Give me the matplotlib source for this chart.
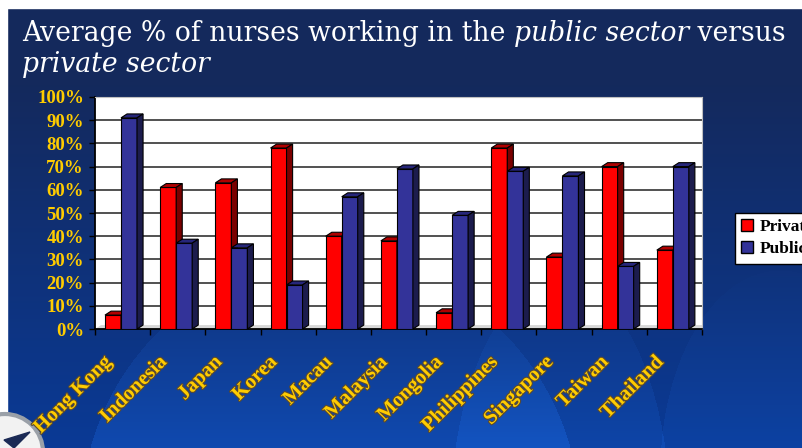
import numpy as np
import matplotlib
matplotlib.use('Agg')
import matplotlib.pyplot as plt
from matplotlib.patches import Polygon, Rectangle, Circle, Patch
from matplotlib.transforms import blended_transform_factory
import matplotlib.patheffects as pe

countries = ['Hong Kong', 'Indonesia', 'Japan', 'Korea', 'Macau', 'Malaysia',
             'Mongolia', 'Philippines', 'Singapore', 'Taiwan', 'Thailand']
private = [6, 61, 63, 78, 40, 38, 7, 78, 31, 70, 34]
public = [91, 37, 35, 19, 57, 69, 49, 68, 66, 27, 70]
yticks = [0, 10, 20, 30, 40, 50, 60, 70, 80, 90, 100]
ytick_labels = ['%d%%' % v for v in yticks]

W, H = 803, 448
fig = plt.figure(figsize=(W / 100, H / 100), dpi=100)

# slide background
bg = fig.add_axes([0, 0, 1, 1])
bg.set_xlim(0, W)
bg.set_ylim(H, 0)
bg.axis('off')
yy, xx = np.mgrid[0:H, 0:W]
t = np.clip((yy - 80) / 368.0, 0, 1)[..., None]
top = np.array([20, 41, 92]) / 255
bot = np.array([10, 58, 150]) / 255
img = top * (1 - t) + bot * t
img = np.broadcast_to(img, (H, W, 3)).copy()
# lighter swooshes
for cx, cy, rx, ry, amt in [(330, 520, 250, 260, 0.10), (560, 520, 110, 240, 0.07), (780, 470, 120, 200, 0.05)]:
    d = ((xx - cx) / rx) ** 2 + ((yy - cy) / ry) ** 2
    m = (d < 1).astype(float)[..., None] * np.clip((yy - 250) / 198.0, 0, 1)[..., None]
    img = img + m * amt * np.array([0.2, 0.6, 1.0])
img[:85] = np.array([20, 41, 92]) / 255
bg.imshow(np.clip(img, 0, 1), extent=(0, W, H, 0), aspect='auto', zorder=0)
bg.add_patch(Rectangle((0, 0), W, 8, color='white', zorder=1))
bg.add_patch(Rectangle((0, 0), 7, 412, color='white', zorder=1))
bg.add_patch(Circle((5, 452), 38, facecolor='#f2f2f2', edgecolor='#9aa0a8', lw=3, zorder=2))
bg.add_patch(Polygon([(4, 440), (30, 432), (14, 448)], color='#1b2a55', zorder=3))

# title, mixed upright / italic
def title_line(parts, x0, ybase, size):
    rend = fig.canvas.get_renderer()
    x = x0
    for txt, style in parts:
        t_ = fig.text(x / W, 1 - ybase / H, txt, color='white', fontsize=size,
                      family='DejaVu Serif', style=style, va='baseline', ha='left')
        bb = t_.get_window_extent(rend)
        x = bb.x1

line1 = [('Average % of nurses working in the ', 'normal'), ('public sector', 'italic'), (' versus', 'normal')]
# fit first line to its width in the slide
probe = fig.text(0, 0, ''.join(p[0] for p in line1), fontsize=20, family='DejaVu Serif')
pw = probe.get_window_extent(fig.canvas.get_renderer()).width
probe.remove()
tsize = 20 * 761 / pw
title_line(line1, 22, 41, tsize)
title_line([('private sector', 'italic')], 22, 72, tsize)

# chart
ax = fig.add_axes([95 / W, 1 - 329 / H, 607 / W, 232 / H])
ax.set_facecolor('white')
ax.set_xlim(-0.5, len(countries) - 0.5)
ax.set_ylim(0, 100)
ax.set_axisbelow(True)
ax.yaxis.grid(True, color='#222222', lw=1.1)

w = 0.29
dx, dy = 0.11, 1.7
n = len(countries)
x = np.arange(n)

ax.add_patch(Polygon([(-0.5, 0), (n - 0.5, 0), (n - 0.5 + dx, dy), (-0.5 + dx, dy)],
                     facecolor='#d8d8d8', edgecolor='none', zorder=1.5))

def bars3d(lefts, vals, front, topc, side, z, label):
    ax.bar(lefts, vals, width=w, align='edge', color=front, edgecolor='black',
           lw=0.8, zorder=z, label=label)
    for x0, v in zip(lefts, vals):
        ax.add_patch(Polygon([(x0, v), (x0 + dx, v + dy), (x0 + w + dx, v + dy), (x0 + w, v)],
                             facecolor=topc, edgecolor='black', lw=0.8, zorder=z, clip_on=False))
        ax.add_patch(Polygon([(x0 + w, 0), (x0 + w + dx, dy), (x0 + w + dx, v + dy), (x0 + w, v)],
                             facecolor=side, edgecolor='black', lw=0.8, zorder=z, clip_on=False))

bars3d(x - 0.319, private, '#ff0000', '#b00000', '#7a0000', 3, 'Private')
bars3d(x - 0.029, public, '#333399', '#26267a', '#1c1c4d', 4, 'Public')

for s in ['top', 'right']:
    ax.spines[s].set_color('#c0c0c0')
ax.spines['left'].set_lw(1.3)
ax.spines['bottom'].set_lw(1.3)

ax.set_yticks(yticks)
ax.set_yticklabels(ytick_labels)
for lab in ax.get_yticklabels():
    lab.set_color('#ffcc00')
    lab.set_fontsize(13.5)
    lab.set_family('Liberation Serif')
    lab.set_weight('bold')
ax.tick_params(axis='y', direction='out', length=4, width=1, pad=4)

ax.set_xticks(np.arange(-0.5, n, 1.0))
ax.set_xticklabels([])
ax.tick_params(axis='x', direction='out', length=4, width=1)

tr = blended_transform_factory(ax.transData, ax.transAxes)
for i, c in enumerate(countries):
    ax.text(i - 0.38, -0.10, c, transform=tr, rotation=45, rotation_mode='anchor',
            ha='right', va='top', color='#ffcc00', fontsize=14.8,
            family='Liberation Serif', weight='bold', clip_on=False,
            path_effects=[pe.withStroke(linewidth=1.6, foreground='#5a4a30')])

handles = [Patch(facecolor='#ff0000', edgecolor='black'), Patch(facecolor='#333399', edgecolor='black')]
leg = fig.legend(handles, ['Private', 'Public'], loc='upper left',
                 bbox_to_anchor=(735 / W, 1 - 213 / H), frameon=True, fancybox=False,
                 edgecolor='black', framealpha=1, handlelength=0.7, handleheight=0.7,
                 handletextpad=0.4, borderpad=0.35, labelspacing=0.35, borderaxespad=0,
                 prop={'family': 'Liberation Serif', 'weight': 'bold', 'size': 12.5})
leg.get_frame().set_linewidth(1.0)

fig.savefig('out.png', dpi=100)
